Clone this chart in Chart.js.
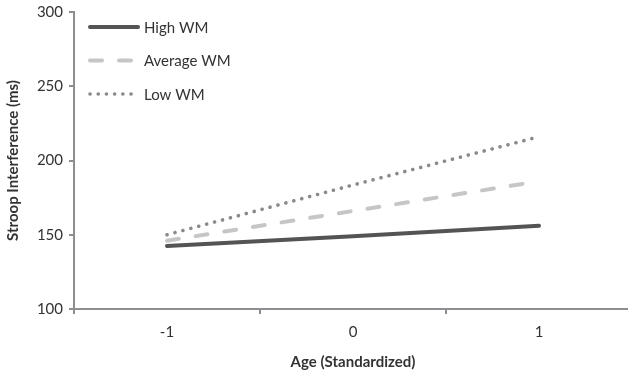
<!DOCTYPE html>
<html>
<head>
<meta charset="utf-8">
<script src="https://cdn.jsdelivr.net/npm/chart.js@4.4.1/dist/chart.umd.min.js"></script>
<style>
  html, body { margin: 0; padding: 0; background: #fff; overflow: hidden; }
  #wrap { position: relative; width: 632px; height: 378px; margin-top: -3px; }
</style>
</head>
<body>
<div id="wrap"><canvas id="c"></canvas></div>
<script>
// data
var ageLabels = ['-1', '0', '1'];
var highWM = [142.5, 149, 156];
var averageWM = [146, 166, 186];
var lowWM = [150, 183.5, 216];
var seriesNames = ['High WM', 'Average WM', 'Low WM'];
var yTicks = [100, 150, 200, 250, 300];

var FONT = 'Lato, "Open Sans", sans-serif';
var AXIS = '#8e8e92';
var TEXT = '#333333';

/* legend drawn inside the plot, top-left, like the original */
var innerLegend = {
  id: 'innerLegend',
  afterDraw: function (chart) {
    var ctx = chart.ctx, area = chart.chartArea;
    var x0 = area.left + 16, x1 = area.left + 64;
    ctx.save();
    chart.data.datasets.forEach(function (ds, i) {
      var y = area.top + 15 + i * 33.5;
      ctx.beginPath();
      ctx.lineWidth = ds.borderWidth;
      ctx.strokeStyle = ds.borderColor;
      ctx.lineCap = ds.borderCapStyle || 'butt';
      ctx.setLineDash(ds.borderDash || []);
      ctx.moveTo(x0, y);
      ctx.lineTo(x1, y);
      ctx.stroke();
      ctx.setLineDash([]);
      ctx.fillStyle = TEXT;
      ctx.font = '15px ' + FONT;
      ctx.textBaseline = 'middle';
      ctx.fillText(ds.label, x1 + 6, y + 1);
    });
    ctx.restore();
  }
};

new Chart(document.getElementById('c'), {
  type: 'line',
  data: {
    labels: ageLabels,
    datasets: [
      { label: seriesNames[0], data: highWM, borderColor: '#545454', borderWidth: 4,
        borderCapStyle: 'round', pointRadius: 0, tension: 0 },
      { label: seriesNames[1], data: averageWM, borderColor: '#c6c6c6', borderWidth: 4,
        borderDash: [12, 17], borderCapStyle: 'round', pointRadius: 0, tension: 0 },
      { label: seriesNames[2], data: lowWM, borderColor: '#8a8a8e', borderWidth: 3.6,
        borderDash: [0.1, 8.1], borderCapStyle: 'round', pointRadius: 0, tension: 0 }
    ]
  },
  options: {
    responsive: true,
    maintainAspectRatio: false,
    animation: false,
    layout: { padding: { top: 9, right: 0, left: 0, bottom: 0 } },
    plugins: { legend: { display: false }, tooltip: { enabled: false } },
    scales: {
      x: {
        offset: true,
        grid: { display: true, offset: true, drawOnChartArea: false, color: AXIS, lineWidth: 2, tickLength: 5 },
        border: { color: AXIS, width: 2 },
        ticks: { color: TEXT, font: { family: FONT, size: 15 }, padding: 9, maxRotation: 0 },
        title: { display: true, text: 'Age (Standardized)', color: TEXT,
                 font: { family: FONT, size: 15, weight: 'bold' }, padding: { top: 5 } },
        afterFit: function (s) { s.height = 66; }
      },
      y: {
        min: 100, max: 300,
        afterBuildTicks: function (s) { s.ticks = yTicks.map(function (v) { return { value: v }; }); },
        grid: { display: true, drawOnChartArea: false, color: AXIS, lineWidth: 2, tickLength: 5 },
        border: { color: AXIS, width: 2 },
        ticks: { color: TEXT, font: { family: FONT, size: 15 }, padding: 6 },
        title: { display: true, text: 'Stroop Interference (ms)', color: TEXT,
                 font: { family: FONT, size: 15, weight: 'bold' }, padding: { top: 4, bottom: 2 } },
        afterFit: function (s) { s.width = 74; }
      }
    }
  },
  plugins: [innerLegend]
});
</script>
</body>
</html>
